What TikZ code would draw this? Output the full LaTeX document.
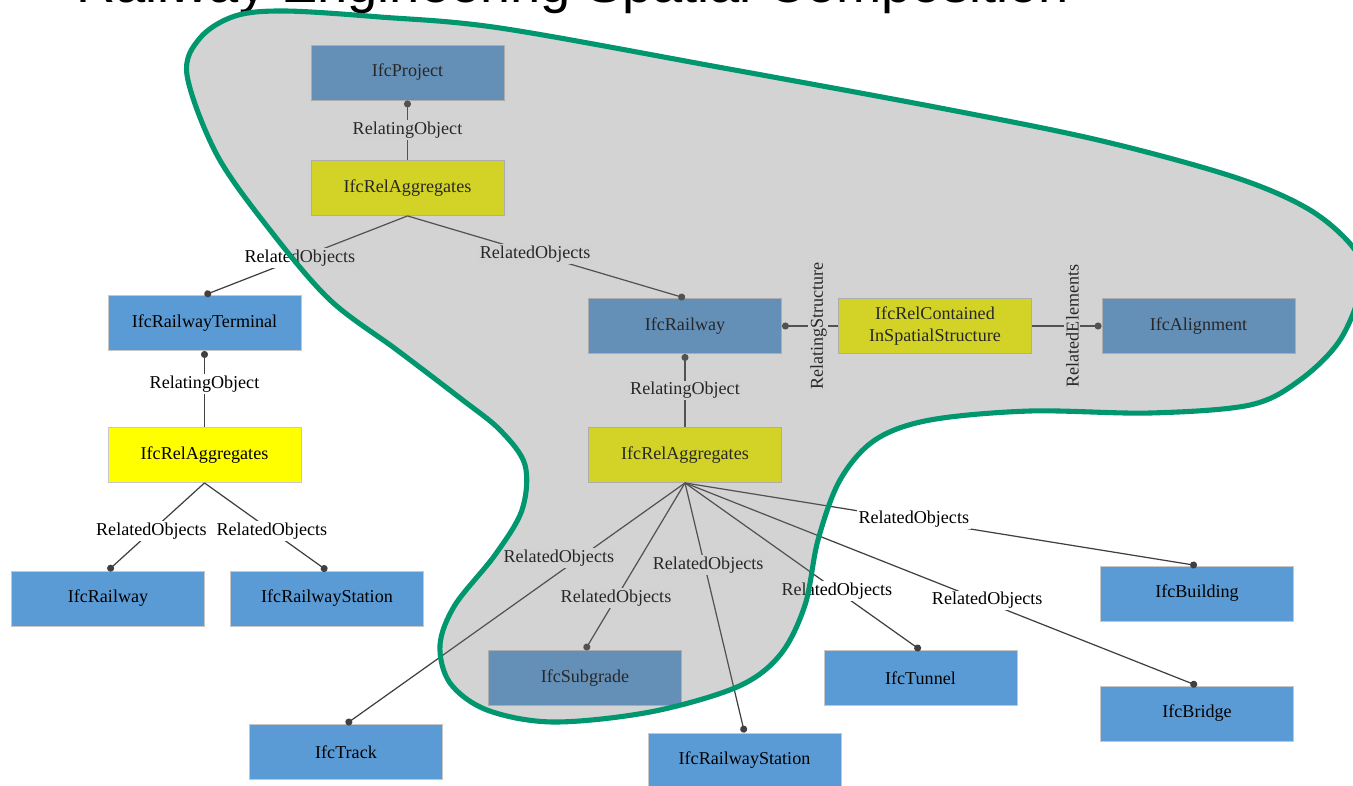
\documentclass[tikz,border=0pt]{standalone}
\usepackage{fontspec}
\setmainfont{Liberation Serif}
\newfontfamily\headfont{Liberation Sans}
\usepackage{tikz}
\usetikzlibrary{arrows.meta}
\usepackage{xcolor}
\definecolor{ifcblue}{RGB}{91,155,213}
\definecolor{ifcyellow}{RGB}{255,255,0}
\definecolor{zonegreen}{RGB}{0,150,110}
\definecolor{zonegray}{RGB}{121,121,121}
\definecolor{linkgray}{RGB}{64,64,64}

\begin{document}
\begin{tikzpicture}[x=0.02cm, y=0.02cm]
\tikzstyle{every node}+=[font=\fontsize{10.3}{12.5}\selectfont]
\tikzstyle{ent}=[draw=black!22, line width=0.5pt, fill=ifcblue, minimum width=3.86cm, minimum height=1.1cm, align=center, inner sep=0pt]
\tikzstyle{rel}=[ent, fill=ifcyellow]
\tikzstyle{link}=[draw=linkgray, line width=0.7pt, -{Circle[length=4pt]}]
\tikzstyle{lbl}=[fill=white, inner sep=1pt]
\useasboundingbox (0,0) rectangle (1353,-785);
\begin{scope}
\clip (0,0) rectangle (1353,-785);
\draw (70,-2) node [anchor=base west, font=\headfont\fontsize{30.9}{36}\selectfont] (title) {Railway Engineering Spatial Composition};
\draw (407.5,-72.5) node [ent] (proj) {IfcProject};
\draw (407.5,-188) node [rel] (aggtop) {IfcRelAggregates};
\draw (204.5,-323) node [ent] (rterm) {IfcRailwayTerminal};
\draw (204.5,-455) node [rel] (aggleft) {IfcRelAggregates};
\draw (108,-598.5) node [ent] (rwleft) {IfcRailway};
\draw (327,-598.5) node [ent] (stleft) {IfcRailwayStation};
\draw (685,-326) node [ent] (rway) {IfcRailway};
\draw (935,-326) node [rel] (relcont) {IfcRelContained\\InSpatialStructure};
\draw (1198.5,-326) node [ent] (align) {IfcAlignment};
\draw (685,-455) node [rel] (aggmid) {IfcRelAggregates};
\draw (585,-678) node [ent] (subg) {IfcSubgrade};
\draw (346,-752) node [ent] (track) {IfcTrack};
\draw (744.5,-760.5) node [ent] (stmid) {IfcRailwayStation};
\draw (920.5,-678) node [ent] (tunnel) {IfcTunnel};
\draw (1197,-593.5) node [ent] (bldg) {IfcBuilding};
\draw (1197,-713.5) node [ent] (bridge) {IfcBridge};
\draw [link] (aggtop.north) -- node [lbl] {RelatingObject} (proj.south);
\draw [link] (aggtop.south) -- node [lbl, pos=0.53] {RelatedObjects} (rterm.north);
\draw [link] (aggtop.south) -- node [lbl, pos=0.46] {RelatedObjects} (rway.north);
\draw [link] (aggleft.north) -- node [lbl, pos=0.57] {RelatingObject} (rterm.south);
\draw [link] (aggleft.south) -- node [lbl, pos=0.55] {RelatedObjects} (rwleft.north);
\draw [link] (aggleft.south) -- node [lbl, pos=0.55] {RelatedObjects} (stleft.north);
\draw [link] (aggmid.north) -- node [lbl] {RelatingObject} (rway.south);
\draw [link] (relcont.west) -- node [lbl, rotate=90, pos=0.35] {RelatingStructure} (rway.east);
\draw [link] (relcont.east) -- node [lbl, rotate=90, pos=0.58] {RelatedElements} (align.west);
\draw [link] (aggmid.south) -- node [lbl, pos=0.31, xshift=-12pt] {RelatedObjects} (track.north);
\draw [link] (aggmid.south) -- node [lbl, pos=0.69] {RelatedObjects} (subg.north);
\draw [link] (aggmid.south) -- node [lbl, pos=0.33, xshift=2pt] {RelatedObjects} (stmid.north);
\draw [link] (aggmid.south) -- node [lbl, pos=0.645] {RelatedObjects} (tunnel.north);
\draw [link] (aggmid.south) -- node [lbl, pos=0.58, xshift=3pt] {RelatedObjects} (bridge.north);
\draw [link] (aggmid.south) -- node [lbl, pos=0.44, xshift=2pt] {RelatedObjects} (bldg.north);
\draw [zonegreen, line width=2.9pt, fill=zonegray, fill opacity=0.33] plot [smooth cycle, tension=0.55] coordinates {(187,-75) (200,-38) (235,-16) (285,-11) (380,-17) (500,-28) (718,-67) (935,-107) (1098,-140) (1234,-177) (1310,-210) (1355,-250) (1362,-285) (1340,-340) (1300,-380) (1250,-405) (1150,-413) (1030,-411) (930,-420) (875,-440) (840,-480) (818,-540) (805,-605) (780,-655) (737,-687) (650,-712) (553,-722) (487,-710) (450,-683) (440,-645) (455,-605) (495,-555) (522,-510) (525,-465) (500,-430) (460,-398) (397,-350) (330,-300) (270,-230) (217,-155)};
\end{scope}
\end{tikzpicture}
\end{document}
